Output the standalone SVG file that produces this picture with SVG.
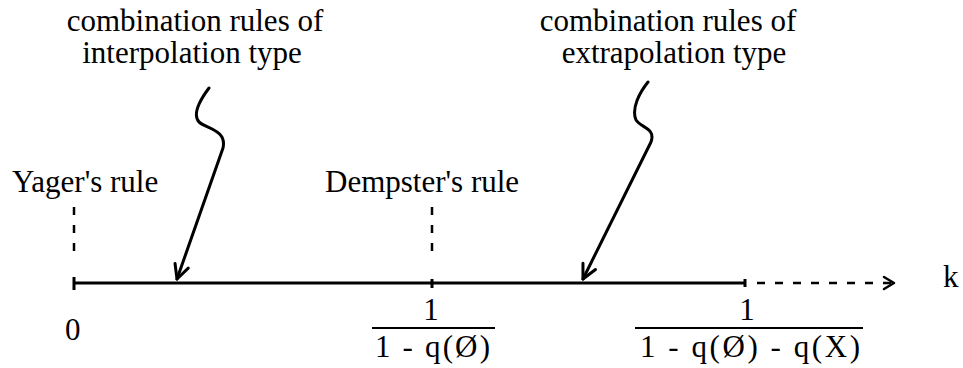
<svg xmlns="http://www.w3.org/2000/svg" width="963" height="368" viewBox="0 0 963 368">
<style>
text{font-family:"Liberation Serif","Times New Roman",serif;font-size:31px;fill:#000}
.c{text-anchor:middle}
.ax{stroke:#000;stroke-width:3;fill:none}
.dash{stroke:#000;stroke-width:2.5;fill:none;stroke-dasharray:8 10}
.wave{stroke:#000;stroke-width:3;fill:none;stroke-linecap:round;stroke-linejoin:round}
.bar{stroke:#000;stroke-width:2}
</style>
<defs>
<marker id="ah" viewBox="0 0 20 20" refX="18" refY="10" markerWidth="20" markerHeight="20" markerUnits="userSpaceOnUse" orient="auto">
<path d="M4,3 L18,10 L4,17" fill="none" stroke="#000" stroke-width="3" stroke-linecap="round" stroke-linejoin="round"/>
</marker>
<marker id="ah2" viewBox="0 0 16 16" refX="14" refY="8" markerWidth="16" markerHeight="16" markerUnits="userSpaceOnUse" orient="auto">
<path d="M4,2 L14,8 L4,14" fill="none" stroke="#000" stroke-width="2.5" stroke-linecap="round" stroke-linejoin="round"/>
</marker>
</defs>
<g id="label-interp">
<text class="c" x="195" y="31">combination rules of</text>
<text class="c" x="192" y="63">interpolation type</text>
</g>
<g id="label-extrap">
<text class="c" x="668" y="31">combination rules of</text>
<text class="c" x="674" y="63">extrapolation type</text>
</g>
<g id="yager">
<text x="12" y="192">Yager's rule</text>
</g>
<g id="dempster">
<text x="325" y="192">Dempster's rule</text>
</g>
<g id="zero"><text x="65" y="340">0</text></g>
<g id="frac1">
<text class="c" x="431" y="320">1</text>
<line class="bar" x1="372" y1="328" x2="495" y2="328"/>
<text x="375" y="357" textLength="115" lengthAdjust="spacing">1 - q(Ø)</text>
</g>
<g id="frac2">
<text class="c" x="747" y="320">1</text>
<line class="bar" x1="635" y1="328" x2="863" y2="328"/>
<text x="640" y="357" textLength="220" lengthAdjust="spacing">1 - q(Ø) - q(X)</text>
</g>
<g id="k"><text x="943" y="287">k</text></g>
<g id="connectors">
<line class="ax" x1="74" y1="283" x2="745" y2="283"/>
<line class="ax" x1="74" y1="277" x2="74" y2="290"/>
<line class="ax" x1="432" y1="279" x2="432" y2="288"/>
<line class="ax" x1="745" y1="279" x2="745" y2="287"/>
<line class="dash" x1="74" y1="207" x2="74" y2="256"/>
<line class="dash" x1="432" y1="207" x2="432" y2="256"/>
<path class="dash" d="M757,283 L894,283" stroke-dasharray="9 8" marker-end="url(#ah2)"/>
<path class="wave" d="M209,88 C200,100 192,114 199,122 C207,129 227,130 223,148 L177,279" marker-end="url(#ah)"/>
<path class="wave" d="M648,82 C640,92 631,108 636,120 C641,128 656,128 651,142 L583,279" marker-end="url(#ah)"/>
</g>
</svg>
